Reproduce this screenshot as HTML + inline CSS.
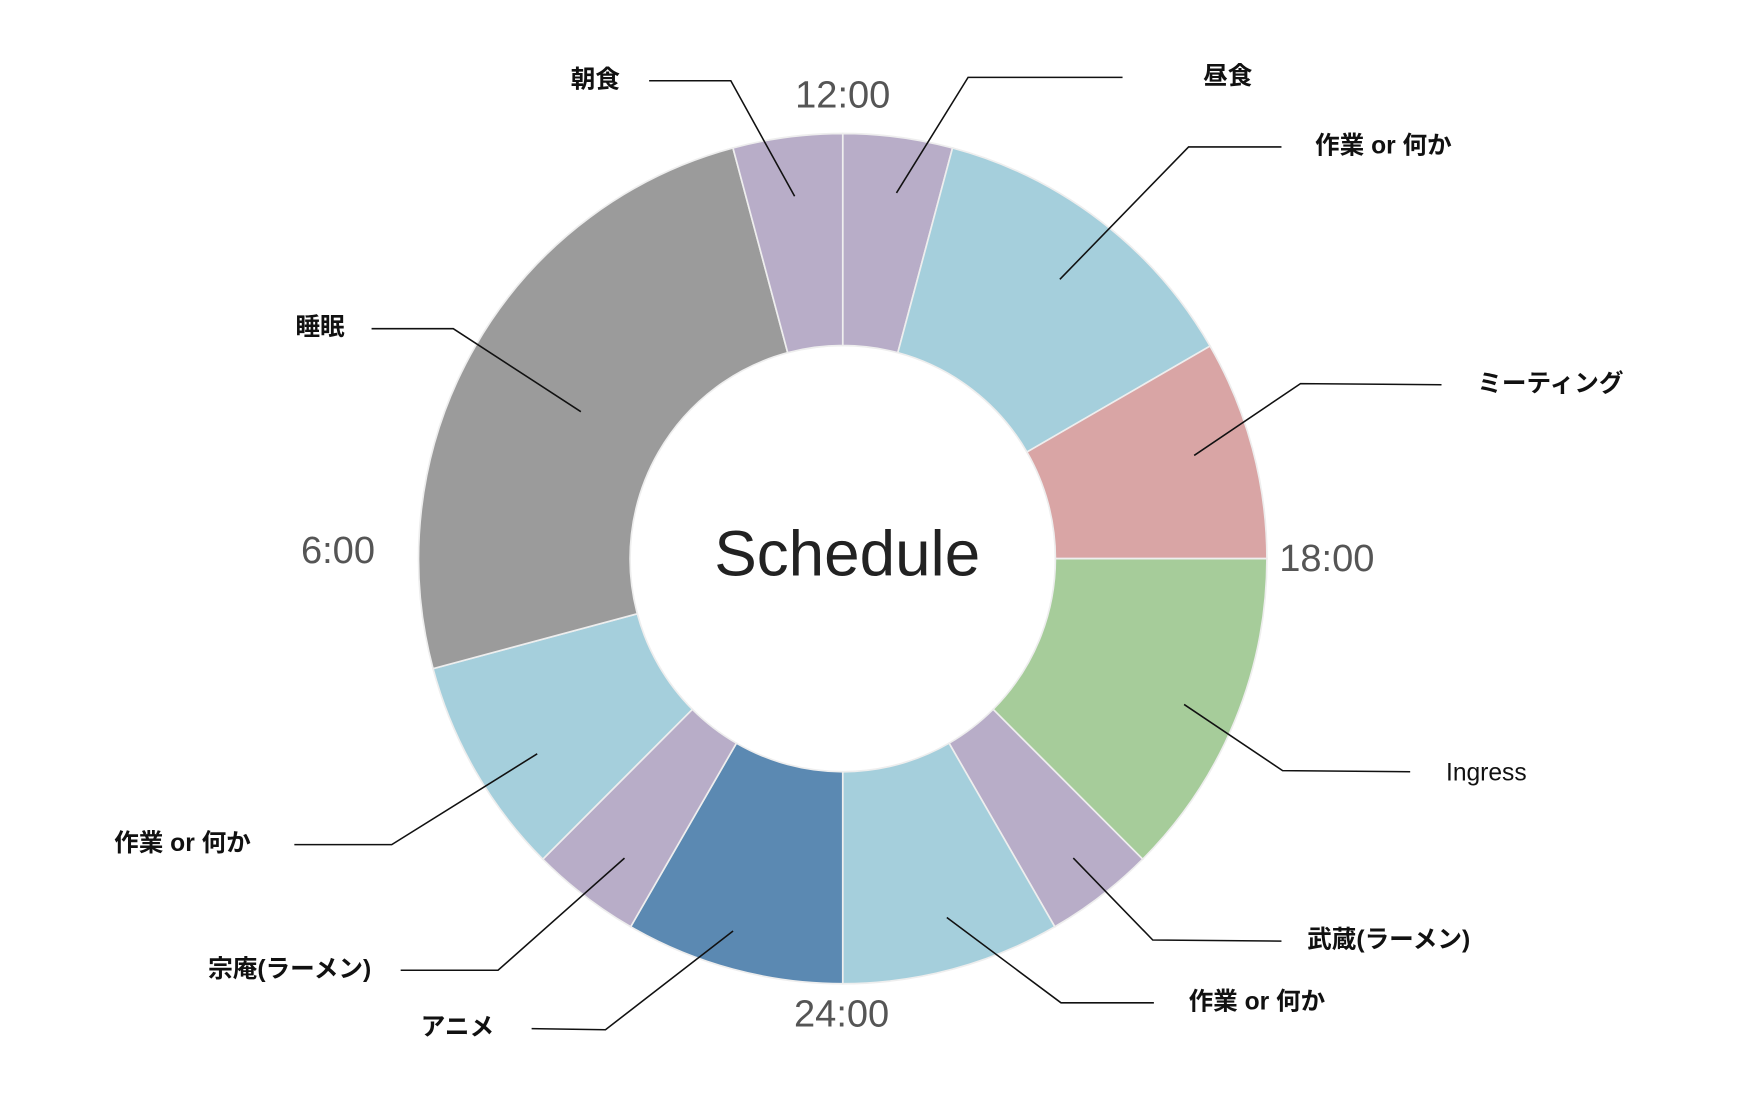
<!DOCTYPE html>
<html><head><meta charset="utf-8"><style>
html,body{margin:0;padding:0;background:#fff;}
svg{display:block;}
.lb{font-family:"Liberation Sans","Noto Sans CJK JP",sans-serif;font-size:22px;fill:#111;font-weight:bold;dominant-baseline:middle;}
.tm{font-family:"Liberation Sans",sans-serif;font-size:34px;fill:#555;dominant-baseline:middle;}
.ln{fill:none;stroke:#111;stroke-width:1.4;}
</style></head><body>
<svg id="s" width="1756" height="1106" viewBox="0 0 1569 986" preserveAspectRatio="none">
<g id="segs"></g>
<text x="757" y="498" text-anchor="middle" class="tm" style="font-size:57px;fill:#222">Schedule</text>
<text x="753" y="87" text-anchor="middle" class="tm">12:00</text>
<text x="302" y="493" text-anchor="middle" class="tm">6:00</text>
<text x="1143" y="500" class="tm">18:00</text>
<text x="752" y="906" text-anchor="middle" class="tm">24:00</text>

<polyline class="ln" points="580,72 653,72 710,175"/><text x="510" y="72" class="lb">朝食</text>
<polyline class="ln" points="1003,69 865,69 801,172"/><text x="1075" y="69" class="lb">昼食</text>
<polyline class="ln" points="1145,131 1062,131 947,249"/><text x="1175" y="131" class="lb">作業 or 何か</text>
<polyline class="ln" points="1288,343 1162,342 1067,406"/><text x="1320" y="343" class="lb">ミーティング</text>
<polyline class="ln" points="1260,688 1146,687 1058,628"/><text x="1292" y="690" class="lb" style="font-weight:normal">Ingress</text>
<polyline class="ln" points="1145,839 1030,838 959,765"/><text x="1168" y="839" class="lb">武蔵(ラーメン)</text>
<polyline class="ln" points="1031,894 948,894 846,818"/><text x="1062" y="894" class="lb">作業 or 何か</text>
<polyline class="ln" points="475,917 541,918 655,830"/><text x="376" y="917" class="lb">アニメ</text>
<polyline class="ln" points="358,865 445,865 558,765"/><text x="186" y="865" class="lb">宗庵(ラーメン)</text>
<polyline class="ln" points="263,753 350,753 480,672"/><text x="102" y="753" class="lb">作業 or 何か</text>
<polyline class="ln" points="332,293 405,293 519,367"/><text x="264" y="293" class="lb">睡眠</text>
</svg>
<script>
var cx=753,cy=498,R=379,r=190;
var segs=[[0,15,'#b8adc8'],[15,60,'#a5cfdc'],[60,90,'#d9a5a5'],[90,135,'#a6cc9a'],[135,150,'#b8adc8'],[150,180,'#a5cfdc'],[180,210,'#5b89b2'],[210,225,'#b8adc8'],[225,255,'#a5cfdc'],[255,345,'#9b9b9b'],[345,360,'#b8adc8']];
function p(a,rad){var t=a*Math.PI/180;return (cx+rad*Math.sin(t)).toFixed(2)+','+(cy-rad*Math.cos(t)).toFixed(2);}
var h='';
segs.forEach(function(s){var l=(s[1]-s[0])>180?1:0;
h+='<path d="M'+p(s[0],R)+' A'+R+','+R+' 0 '+l+' 1 '+p(s[1],R)+' L'+p(s[1],r)+' A'+r+','+r+' 0 '+l+' 0 '+p(s[0],r)+' Z" fill="'+s[2]+'" stroke="#eee" stroke-width="1.5"/>';});
document.getElementById('segs').innerHTML=h;
</script>
</body></html>
